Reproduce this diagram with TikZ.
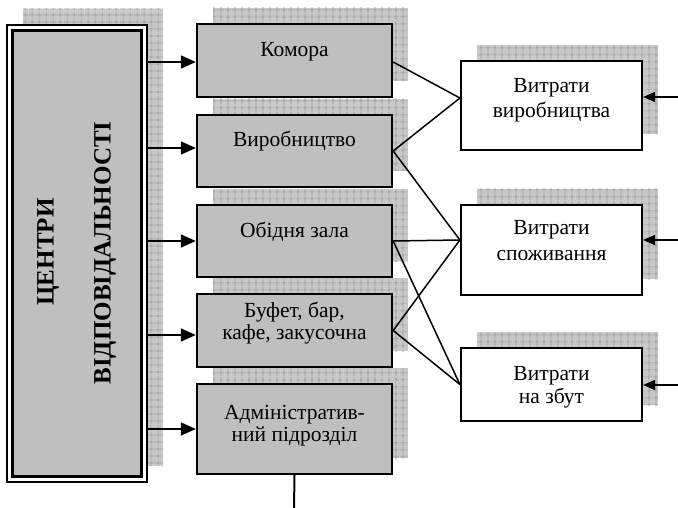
\documentclass[tikz,border=0pt]{standalone}
\usepackage{fontspec}
\setmainfont{Liberation Serif}
\usetikzlibrary{arrows.meta,patterns.meta,calc}
\begin{document}
\begin{tikzpicture}[x=1pt,y=-1pt,
  shadowbg/.style={fill=black!21,draw=none},
  shadowpat/.style={pattern={Hatch[angle=0,distance=6.5pt,line width=0.6pt]},pattern color=black!40},
  midbox/.style={draw,line width=2.4pt,fill=black!25,minimum width=195pt,inner sep=0pt},
  rbox/.style={draw,line width=2.2pt,fill=white,minimum width=181pt,inner sep=0pt},
  txt/.style={font=\fontsize{21.5}{24}\selectfont,inner sep=0pt,anchor=base},
  vtxt/.style={font=\fontsize{25}{26}\selectfont\bfseries,inner sep=0pt,rotate=90},
  arrL/.style={-{Triangle[length=15pt,width=13pt]},line width=1.6pt},
  arrR/.style={-{Triangle[length=12pt,width=10pt]},line width=1.6pt},
  conn/.style={line width=1.5pt}]
\useasboundingbox (0,0) rectangle (678,508);
% shadows
\foreach \a/\b/\c/\d in {23/9/163/466, 213/8/408/81, 213/99/408/171, 213/189/408/261,
  213/278/408/351, 213/368/408/458, 477/45/658/134, 477/189/658/279, 477/332/658/405}{
  \fill[shadowbg] (\a,\b) rectangle (\c,\d);
  \fill[shadowpat] (\a,\b) rectangle (\c,\d);
}
% left box
\node[draw,line width=2.5pt,fill=white,minimum width=140pt,minimum height=457pt,inner sep=0pt] (cen) at (77,253.5) {};
\node[draw,line width=2.5pt,fill=black!25,minimum width=129pt,minimum height=446pt,inner sep=0pt] (ceninner) at (77,253.5) {};
\node[vtxt] (c1) at (48,252) {ЦЕНТРИ};
\node[vtxt] (c2) at (105,253) {ВІДПОВІДАЛЬНОСТІ};
% middle boxes
\node[midbox,minimum height=73pt] (kom) at (294.5,60.5) {};
\node[midbox,minimum height=72pt] (vir) at (294.5,151) {};
\node[midbox,minimum height=72pt] (ob) at (294.5,241) {};
\node[midbox,minimum height=73pt] (buf) at (294.5,330.5) {};
\node[midbox,minimum height=90pt] (adm) at (294.5,429) {};
\node[txt] (komT) at (294.5,57) {Комора};
\node[txt] (virT) at (294.5,147) {Виробництво};
\node[txt] (obT) at (294.5,237) {Обідня зала};
\node[txt] (bufA) at (294.5,317) {Буфет, бар,};
\node[txt] (bufB) at (294.5,339) {кафе, закусочна};
\node[txt] (admA) at (294.5,419) {Адміністратив-};
\node[txt] (admB) at (294.5,441) {ний підрозділ};
% right boxes
\node[rbox,minimum height=89pt] (vv) at (551.5,105.5) {};
\node[rbox,minimum height=90pt] (vs) at (551.5,250) {};
\node[rbox,minimum height=73pt] (vz) at (551.5,384.5) {};
\node[txt] (vvA) at (551.5,93) {Витрати};
\node[txt] (vvB) at (551.5,118) {виробництва};
\node[txt] (vsA) at (551.5,235) {Витрати};
\node[txt] (vsB) at (551.5,260) {споживання};
\node[txt] (vzA) at (551.5,380) {Витрати};
\node[txt] (vzB) at (551.5,403) {на збут};
% arrows from centre
\draw[arrL] ([yshift=-1.5pt]kom.west -| cen.east) -- ([yshift=-1.5pt]kom.west);
\draw[arrL] ([yshift=3pt]vir.west -| cen.east) -- ([yshift=3pt]vir.west);
\draw[arrL] (ob.west -| cen.east) -- (ob.west);
\draw[arrL] ([yshift=-4.5pt]buf.west -| cen.east) -- ([yshift=-4.5pt]buf.west);
\draw[arrL] (adm.west -| cen.east) -- (adm.west);
% connectors
\draw[conn] ([yshift=-1.5pt]kom.east) -- ([yshift=7.5pt]vv.west);
\draw[conn] (vir.east) -- ([yshift=7.5pt]vv.west);
\draw[conn] (vir.east) -- ([yshift=10pt]vs.west);
\draw[conn] (ob.east) -- ([yshift=10pt]vs.west);
\draw[conn] (ob.east) -- (vz.west);
\draw[conn] (buf.east) -- ([yshift=10pt]vs.west);
\draw[conn] (buf.east) -- (vz.west);
% right inputs
\coordinate (in1) at (678,97);
\coordinate (in2) at (678,240);
\coordinate (in3) at (678,385);
\draw[arrR] (in1) -- (in1 -| vv.east);
\draw[arrR] (in2) -- (in2 -| vs.east);
\draw[arrR] (in3) -- (in3 -| vz.east);
% bottom line
\coordinate (bot) at (294,508);
\draw[line width=2pt] (adm.south) -- (bot);
\end{tikzpicture}
\end{document}
